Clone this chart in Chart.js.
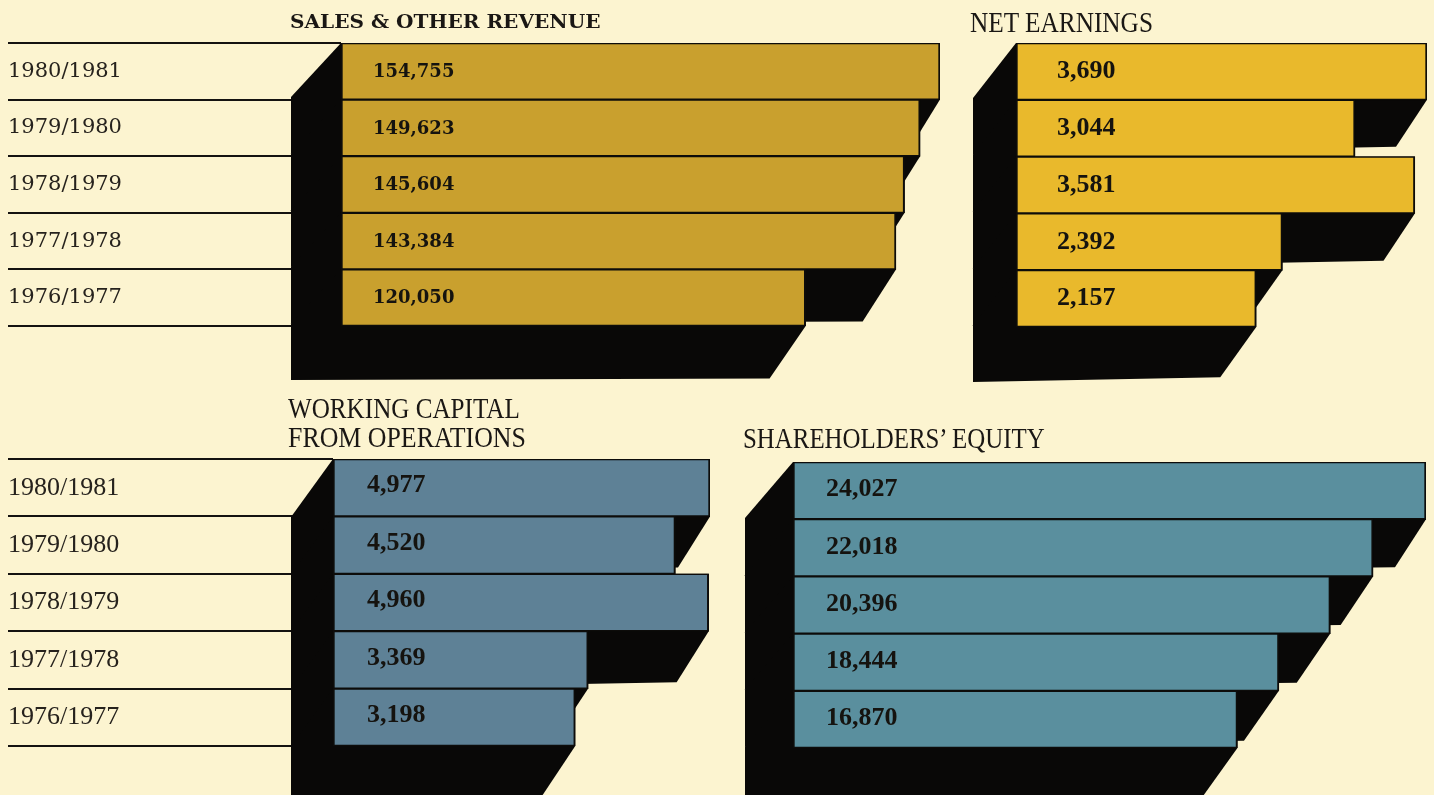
<!DOCTYPE html>
<html>

<head>
    <meta charset="utf-8">
    <title>Five year review</title>
    <script src="https://cdn.jsdelivr.net/npm/chart.js@4.4.0/dist/chart.umd.min.js"></script>
    <style>
        body { margin: 0; background: #fcf4d0; }
        #page { position: relative; width: 1434px; height: 795px; overflow: hidden; }
        #page canvas { position: absolute; left: 0; top: 0; }
        .ttl { position: absolute; white-space: nowrap; line-height: 1; color: #1a1714; transform-origin: 0 0; }
        .cond { font-family: "Liberation Serif"; font-size: 30px; }
        .wide { font-family: "DejaVu Serif"; font-weight: bold; font-size: 18px; }
    </style>
</head>

<body>
    <div id="page">
        <canvas id="sales" width="1434" height="795"></canvas>
        <canvas id="net" width="1434" height="795"></canvas>
        <canvas id="wc" width="1434" height="795"></canvas>
        <canvas id="equity" width="1434" height="795"></canvas>

        <div class="ttl wide" data-w="310" style="left:290px;top:13px">SALES &amp; OTHER REVENUE</div>
        <div class="ttl cond" data-w="183" style="left:970px;top:7px">NET EARNINGS</div>
        <div class="ttl cond" data-w="232" style="left:288px;top:393px">WORKING CAPITAL</div>
        <div class="ttl cond" data-w="238" style="left:288px;top:422px">FROM OPERATIONS</div>
        <div class="ttl cond" data-w="302" style="left:743px;top:423px">SHAREHOLDERS’ EQUITY</div>
    </div>
    <script>
        // data
        const years = ['1980/1981', '1979/1980', '1978/1979', '1977/1978', '1976/1977'];
        const sales = [154755, 149623, 145604, 143384, 120050];
        const netEarnings = [3690, 3044, 3581, 2392, 2157];
        const workingCapital = [4977, 4520, 4960, 3369, 3198];
        const equity = [24027, 22018, 20396, 18444, 16870];

        // black "depth" block behind every bar, pushed down and to the left
        const depthPlugin = {
            id: 'depth',
            beforeDatasetsDraw(chart, args, opts) {
                const { ctx, chartArea: a } = chart;
                const off = x => {
                    const t = (x - a.left) / (a.right - a.left);
                    return [opts.l[0] + (opts.r[0] - opts.l[0]) * t, opts.l[1] + (opts.r[1] - opts.l[1]) * t];
                };
                ctx.save();
                ctx.fillStyle = '#090807';
                chart.getDatasetMeta(0).data.forEach(bar => {
                    const { x, y, base, height } = bar.getProps(['x', 'y', 'base', 'height'], true);
                    const y0 = y - height / 2, y1 = y + height / 2;
                    const [dl, el] = off(base), [dr, er] = off(x);
                    ctx.beginPath();
                    ctx.moveTo(base, y0);
                    ctx.lineTo(x, y0);
                    ctx.lineTo(x, y1);
                    ctx.lineTo(x + dr, y1 + er);
                    ctx.lineTo(base + dl, y1 + el);
                    ctx.lineTo(base + dl, y0 + el);
                    ctx.closePath();
                    ctx.fill();
                });
                ctx.restore();
            }
        };

        // value written inside each bar
        const valuePlugin = {
            id: 'values',
            afterDatasetsDraw(chart, args, opts) {
                const { ctx, chartArea: a } = chart;
                const ds = chart.data.datasets[0];
                ctx.save();
                ctx.font = opts.font;
                ctx.fillStyle = '#15130f';
                ctx.textBaseline = 'middle';
                ctx.textAlign = 'left';
                chart.getDatasetMeta(0).data.forEach((bar, i) => {
                    ctx.fillText(ds.data[i].toLocaleString('en-US'), a.left + opts.dx, bar.y + opts.dy);
                });
                ctx.restore();
            }
        };

        const panels = [
            {
                id: 'sales', values: sales, color: '#c9a02e',
                box: { left: 341, right: 940, top: 43, bottom: 326 },
                years: { family: 'DejaVu Serif', size: 21 },
                valueFont: 'bold 18px "DejaVu Serif"', dx: 32, dy: 1,
                depth: { l: [-50, 54], r: [-32, 52] }
            },
            {
                id: 'net', values: netEarnings, color: '#e9b92c',
                box: { left: 1016, right: 1427, top: 43, bottom: 327 },
                years: null,
                valueFont: 'bold 26px "Liberation Serif"', dx: 41, dy: 0,
                depth: { l: [-43, 55], r: [-31, 47] }
            },
            {
                id: 'wc', values: workingCapital, color: '#5e8196',
                box: { left: 333, right: 710, top: 459, bottom: 746 },
                years: { family: 'Liberation Serif', size: 26 },
                valueFont: 'bold 26px "Liberation Serif"', dx: 34, dy: -2,
                depth: { l: [-42, 58], r: [-32, 51] }
            },
            {
                id: 'equity', values: equity, color: '#5a8f9e',
                box: { left: 793, right: 1426, top: 462, bottom: 748 },
                years: null,
                valueFont: 'bold 26px "Liberation Serif"', dx: 33, dy: -1,
                depth: { l: [-48, 56], r: [-31, 48] }
            }
        ];

        panels.forEach(p => {
            const axisW = p.box.left - 8;
            const yAxis = {
                display: !!p.years,
                border: { display: false },
                grid: {
                    offset: true,
                    drawOnChartArea: false,
                    color: '#141210',
                    lineWidth: 2,
                    tickLength: axisW
                },
                ticks: {
                    crossAlign: 'far',
                    padding: 0,
                    color: '#26221d',
                    font: p.years || {}
                }
            };
            // year column only on the left-hand panels
            if (p.years) yAxis.afterFit = axis => { axis.width = axisW; };

            new Chart(document.getElementById(p.id), {
                type: 'bar',
                data: {
                    labels: years,
                    datasets: [{
                        data: p.values,
                        backgroundColor: p.color,
                        borderColor: '#0d0c0a',
                        borderWidth: { top: 1.5, bottom: 1.5, left: 2, right: 2 },
                        borderSkipped: false,
                        barPercentage: 1,
                        categoryPercentage: 1
                    }]
                },
                options: {
                    indexAxis: 'y',
                    responsive: false,
                    animation: false,
                    events: [],
                    layout: {
                        padding: {
                            left: p.years ? 8 : p.box.left,
                            right: 1434 - p.box.right,
                            top: p.box.top,
                            bottom: 795 - p.box.bottom
                        }
                    },
                    plugins: {
                        legend: { display: false },
                        tooltip: { enabled: false },
                        depth: p.depth,
                        values: { font: p.valueFont, dx: p.dx, dy: p.dy }
                    },
                    scales: {
                        x: { display: false, min: 0, max: Math.max(...p.values) },
                        y: yAxis
                    }
                },
                plugins: [depthPlugin, valuePlugin]
            });
        });

        // squeeze / stretch the titles to the printed widths
        document.querySelectorAll('.ttl').forEach(el => {
            el.style.transform = 'scaleX(' + (el.dataset.w / el.offsetWidth) + ')';
        });
    </script>
</body>

</html>
